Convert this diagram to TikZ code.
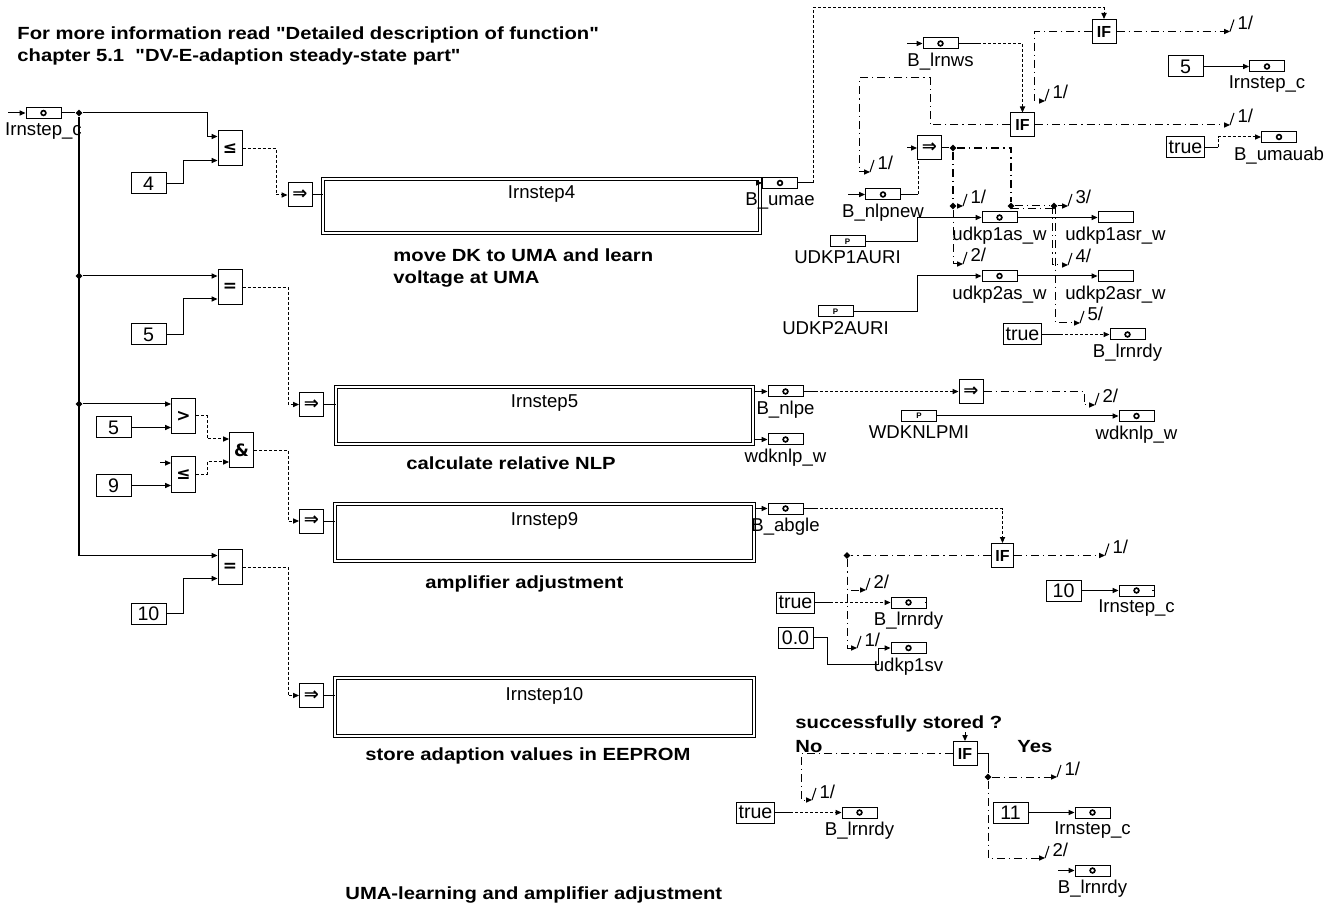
\documentclass[tikz,border=0pt]{standalone}
\usepackage{fontspec}
\setmainfont{Liberation Sans}
\newfontfamily\headfont{Liberation Sans}[FakeStretch=1.15]
\newfontfamily\opfont{DejaVu Sans}
\usetikzlibrary{arrows.meta,shapes.geometric,positioning,calc}

\begin{document}
\begin{tikzpicture}[
    x=0.5pt, y=-0.5pt,
    >={Stealth[length=3pt,width=2.6pt,inset=0pt]},
    lbl/.style={font=\fontsize{9.3}{10}\selectfont, inner sep=1.6pt},
    head/.style={font=\headfont\bfseries\fontsize{8.8}{11}\selectfont, align=left, inner sep=0pt},
    msg/.style={draw, line width=0.5pt, minimum width=17.5pt, minimum height=5.5pt, inner sep=0pt,
        path picture={\draw[line width=0.8pt] (path picture bounding box.center) circle (1.2pt);}},
    prm/.style={draw, line width=0.5pt, minimum width=17.5pt, minimum height=5.5pt, inner sep=0pt,
        font=\bfseries\fontsize{4}{4}\selectfont},
    outb/.style={draw, line width=0.5pt, minimum width=17.5pt, minimum height=5.5pt, inner sep=0pt},
    cst/.style={draw, line width=0.5pt, minimum width=17.5pt, minimum height=10.5pt, inner sep=1pt,
        font=\fontsize{9.8}{10}\selectfont},
    op/.style={draw, line width=0.5pt, minimum width=12pt, minimum height=17.5pt, inner sep=0pt,
        font=\opfont\bfseries\fontsize{8.5}{9}\selectfont},
    imp/.style={draw, line width=0.5pt, minimum size=12pt, inner sep=0pt,
        font=\opfont\bfseries\fontsize{9}{9}\selectfont},
    ifb/.style={draw, line width=0.5pt, minimum size=12pt, inner sep=0pt,
        font=\bfseries\fontsize{8}{8}\selectfont},
    blk/.style={draw, double, double distance=0.6pt, line width=0.5pt, inner sep=0pt},
    jn/.style={diamond, fill, inner sep=0pt, minimum size=3.5pt},
    sig/.style={line width=0.5pt},
    bus/.style={line width=1pt},
    flag/.style={line width=0.5pt, dash pattern=on 1.5pt off 1pt},
    ctrl/.style={line width=0.5pt, dash pattern=on 4pt off 2pt on 0.6pt off 2pt},
    ctrlh/.style={ctrl, line width=0.9pt},
    seq/.pic={\draw[solid,-,line width=0.5pt] (0,0) -- (4,-12);
        \node[lbl, inner sep=0pt, anchor=base west] at (7,-2) {#1};}
]
\useasboundingbox (0,0) rectangle (1340,909);

\node[head, anchor=north west] (title) at (17,26) {For more information read "Detailed description of function"\\chapter 5.1\ \ "DV-E-adaption steady-state part"};

\node[msg, label={[lbl]below:Irnstep\_c}] (lrnin) at (43.5,113) {};
\coordinate (srcin) at (8,113);
\node[jn] (j0) at (79,113) {};
\node[jn] (j1) at (79,276) {};
\node[jn] (j2) at (79,404) {};
\coordinate (jend) at (79,555.5);

\node[op] (le4) at (230,148.5) {≤};
\node[cst] (c4) at (148.5,183.5) {4};
\node[imp] (imp4) at (300,195) {⇒};
\node[blk, minimum width=218.5pt, minimum height=27pt] (blk4) at (541.5,206) {};
\node[lbl, below=2pt of blk4.north] (t4) {Irnstep4};
\node[head, anchor=north west] (cap4) at (393,248) {move DK to UMA and learn\\voltage at UMA};

\node[op] (eq5) at (230,287.5) {=};
\node[cst] (c5a) at (148.5,334.5) {5};
\node[imp] (imp5) at (311.5,404.5) {⇒};
\node[blk, minimum width=208.5pt, minimum height=28.5pt] (blk5) at (544.5,415.5) {};
\node[lbl, below=2.5pt of blk5.north] (t5) {Irnstep5};
\node[head, anchor=base west] (cap5) at (406,470) {calculate relative NLP};

\node[op] (gt5) at (183.5,416) {>};
\node[cst] (c5b) at (113.5,427.5) {5};
\node[op] (le9) at (183.5,474.5) {≤};
\node[cst] (c9) at (113.5,485.5) {9};
\coordinate (stub9) at (160,463);
\node[op] (andop) at (241.5,450.5) {\&};
\node[imp] (imp9) at (311.5,521) {⇒};
\node[blk, minimum width=209.5pt, minimum height=28.5pt] (blk9) at (544.5,532.5) {};
\node[lbl, below=2.5pt of blk9.north] (t9) {Irnstep9};
\node[head, anchor=base west] (cap9) at (425,588) {amplifier adjustment};

\node[op] (eq10) at (230,567) {=};
\node[cst] (c10) at (148.5,613.5) {10};
\node[imp] (imp10) at (311.5,695.5) {⇒};
\node[blk, minimum width=209.5pt, minimum height=29pt] (blk10) at (544.5,707) {};
\node[lbl, below=3pt of blk10.north] (t10) {Irnstep10};
\node[head, anchor=base west] (cap10) at (365,760) {store adaption values in EEPROM};

\node[head, anchor=base west] (capall) at (345,899) {UMA-learning and amplifier adjustment};

\draw[sig,->] (srcin) -- (lrnin);
\draw[sig] (lrnin) -- (j0);
\draw[bus] (j0) -- (jend);
\draw[sig,->] (j0) -- (207,113) |- ($(le4.west)+(0,-12)$);
\draw[sig,->] (c4) -- (183,183.5) |- ($(le4.west)+(0,12)$);
\draw[flag,->] (le4) -- (276,148.5) |- (imp4);
\draw[sig] (imp4) -- (imp4 -| blk4.west);

\draw[sig,->] (j1) -- ($(eq5.west)+(0,-11.5)$);
\draw[sig,->] (c5a) -- (183,334.5) |- ($(eq5.west)+(0,11.5)$);
\draw[flag,->] (eq5) -- (288,287.5) |- (imp5);
\draw[sig] (imp5) -- (imp5 -| blk5.west);

\draw[sig,->] (j2) -- ($(gt5.west)+(0,-12)$);
\draw[sig,->] (c5b) -- ($(gt5.west)+(0,11.5)$);
\draw[sig,->] (stub9) -- ($(le9.west)+(0,-11.5)$);
\draw[sig,->] (c9) -- ($(le9.west)+(0,11)$);
\draw[flag,->] (gt5) -- (207,416) |- ($(andop.west)+(0,-11.5)$);
\draw[flag,->] (le9) -- (207,474.5) |- ($(andop.west)+(0,11.5)$);
\draw[flag,->] (andop) -- (288,450.5) |- (imp9);
\draw[sig] (imp9) -- (imp9 -| blk9.west);

\draw[sig,->] (jend) -- ($(eq10.west)+(0,-11.5)$);
\draw[sig,->] (c10) -- (183,613.5) |- ($(eq10.west)+(0,11.5)$);
\draw[flag,->] (eq10) -- (288,567) |- (imp10);
\draw[sig] (imp10) -- (imp10 -| blk10.west);

\node[msg, label={[lbl]below:B\_umae}] (umae) at (780,183) {};
\draw[sig,->] (blk4.east |- umae) -- (umae);
\draw[sig] (umae) -- (813,183) coordinate (umae1);
\node[ifb] (if1) at (1104,31.5) {IF};
\draw[flag,->] (umae1) -- (813,8) -| (if1);
\draw[ctrl,->] (if1) -- (1034,31.5) -- (1034,101) -- (1045,101) pic{seq=1/};
\draw[ctrl,->] (if1) -- (1230,31.5) pic{seq=1/};

\node[cst] (c5c) at (1185.5,66.5) {5};
\node[msg, label={[lbl]below:Irnstep\_c}] (lrn1) at (1267,66.5) {};
\draw[sig,->] (c5c) -- (lrn1);
\draw[sig] (lrn1) -- ++(17,0) coordinate (lrn1o);

\node[msg, label={[lbl]below:B\_lrnws}] (lrnws) at (940.5,43.5) {};
\coordinate (lrnwsin) at (907,43.5);
\draw[sig,->] (lrnwsin) -- (lrnws);
\draw[sig] (lrnws) -- (978,43.5) coordinate (lrnws1);
\node[ifb] (if2) at (1022.5,125) {IF};
\draw[flag,->] (lrnws1) -| (if2);
\draw[ctrl,->] (if2) -- (930,125) -- (930,78) -- (859,78) -- (859,172) -- (870,172) pic{seq=1/};
\draw[ctrl,->] (if2) -- (1230,125) pic{seq=1/};

\node[cst] (ct1) at (1185.5,147.5) {true};
\node[msg, label={[lbl]below:B\_umauab}] (umauab) at (1279,137) {};
\draw[sig] (ct1) -- (1218,147.5) coordinate (ct1o);
\draw[flag,->] (ct1o) |- (umauab);

\node[imp] (imp1) at (929.5,148) {⇒};
\coordinate (imp1in) at (907,148);
\draw[sig,->] (imp1in) -- (imp1);
\node[msg, label={[lbl]below:B\_nlpnew}] (nlpnew) at (883,194.5) {};
\coordinate (nlpin) at (848,194.5);
\draw[sig,->] (nlpin) -- (nlpnew);
\draw[sig] (nlpnew) -- (918,194.5) coordinate (nlp1);
\draw[flag] (nlp1) -- (nlp1 |- imp1.south);

\node[jn] (jA) at (953,148) {};
\node[jn] (jC) at (953,206) {};
\node[jn] (jB) at (1011,206) {};
\node[jn] (jD) at (1054,206) {};
\draw[sig] (imp1) -- (jA);
\draw[ctrlh] (jA) -- (1011,148) -- (jB);
\draw[ctrlh] (jA) -- (jC);
\draw[ctrl,->] (jC) -- (963,206) pic{seq=1/};
\draw[ctrl,->] (jC) -- (953,264) -- (963,264) pic{seq=2/};
\draw[ctrl] (jB) -- (jD);
\draw[ctrl] ($(jB)+(0,3)$) -- ($(jD)+(0,3)$);
\draw[ctrl,->] (jD) -- (1068,206) pic{seq=3/};
\draw[ctrl,->] ($(jD)+(-1.5,0)$) -- (1052.5,265) -- (1068,265) pic{seq=4/};
\draw[ctrl,->] ($(jD)+(1.5,0)$) -- (1055.5,323) -- (1080,323) pic{seq=5/};

\node[prm, label={[lbl]below:UDKP1AURI}] (ua1) at (847.5,241.5) {P};
\node[msg, label={[lbl]below:udkp1as\_w}] (udkp1) at (999.5,217.5) {};
\node[outb, label={[lbl]below:udkp1asr\_w}] (udkp1r) at (1115.5,217.5) {};
\draw[sig,->] (ua1) -- (917,241.5) |- (udkp1);
\draw[sig,->] (udkp1) -- (udkp1r);
\draw[sig] (udkp1r) -- ++(17,0) coordinate (udkp1ro);

\node[prm, label={[lbl]below:UDKP2AURI}] (ua2) at (835.5,311.5) {P};
\node[msg, label={[lbl]below:udkp2as\_w}] (udkp2) at (999.5,276) {};
\node[outb, label={[lbl]below:udkp2asr\_w}] (udkp2r) at (1115.5,276) {};
\draw[sig,->] (ua2) -- (917,311.5) |- (udkp2);
\draw[sig,->] (udkp2) -- (udkp2r);
\draw[sig] (udkp2r) -- ++(17,0) coordinate (udkp2ro);

\node[cst] (ct2) at (1022.5,334.5) {true};
\node[msg, label={[lbl]below:B\_lrnrdy}] (rdy1) at (1127.5,334.5) {};
\draw[sig] (ct2) -- (1060,334.5) coordinate (ct2o);
\draw[flag,->] (ct2o) -- (rdy1);
\draw[sig] (rdy1) -- ++(17,0) coordinate (rdy1o);

\node[msg, label={[lbl]below:B\_nlpe}] (nlpe) at (785.5,391.5) {};
\node[msg, label={[lbl]below:wdknlp\_w}] (wdk1) at (785.5,439.5) {};
\draw[sig,->] (blk5.east |- nlpe) -- (nlpe);
\draw[sig,->] (blk5.east |- wdk1) -- (wdk1);
\node[imp] (imp2) at (971,391.5) {⇒};
\draw[sig] (nlpe) -- (815,391.5) coordinate (nlpe1);
\draw[flag,->] (nlpe1) -- (imp2);
\draw[ctrl,->] (imp2) -- (1084,391.5) -- (1084,405) -- (1095,405) pic{seq=2/};
\node[prm, label={[lbl]below:WDKNLPMI}] (wdkmi) at (919,416) {P};
\node[msg, label={[lbl]below:wdknlp\_w}] (wdk2) at (1136.5,416) {};
\draw[sig,->] (wdkmi) -- (wdk2);

\node[msg, label={[lbl]below:B\_abgle}] (abgle) at (785.5,508.5) {};
\draw[sig,->] (blk9.east |- abgle) -- (abgle);
\draw[sig] (abgle) -- (815,508.5) coordinate (abgle1);
\node[ifb, minimum width=11pt] (if3) at (1002.5,555.5) {IF};
\draw[flag,->] (abgle1) -| (if3);
\node[jn] (jE) at (847,555.5) {};
\draw[ctrlh] (if3) -- (jE);
\draw[ctrl,->] (jE) -- (847,590) -- (866,590) pic{seq=2/};
\draw[ctrl,->] (jE) -- (847,648) -- (857,648) pic{seq=1/};
\draw[ctrl,->] (if3) -- (1105,555.5) pic{seq=1/};

\node[cst] (ct3) at (795.5,602.5) {true};
\node[msg, label={[lbl]below:B\_lrnrdy}] (rdy2) at (908.5,602.5) {};
\draw[sig] (ct3) -- (830,602.5) coordinate (ct3o);
\draw[flag,->] (ct3o) -- (rdy2);
\draw[sig] (rdy2) -- ++(16,0) coordinate (rdy2o);
\node[cst] (c00) at (795.5,637.5) {0.0};
\node[msg, label={[lbl]below:udkp1sv}] (sv) at (908.5,648) {};
\draw[sig,->] (c00) -- (827,637.5) -- (827,664) -- (878,664) -- (878,648) -- (sv);

\node[cst] (c10b) at (1063.5,590.5) {10};
\node[msg, label={[lbl]below:Irnstep\_c}] (lrn3) at (1136.5,590.5) {};
\draw[sig,->] (c10b) -- (lrn3);
\draw[sig] (lrn3) -- ++(15,0) coordinate (lrn3o);

\node[head, anchor=base west] (qtxt) at (795,728) {successfully stored ?};
\node[head, anchor=base west] (notxt) at (795,752) {No};
\node[head, anchor=base west] (yestxt) at (1017,752) {Yes};
\node[ifb] (if4) at (965,753.5) {IF};
\draw[sig,->] (if4 |- qtxt.south) -- (if4);
\draw[ctrl,->] (if4) -- (801,753.5) -- (801,800) -- (812,800) pic{seq=1/};

\node[cst] (ct4) at (755.5,812.5) {true};
\node[msg, label={[lbl]below:B\_lrnrdy}] (rdy3) at (859.5,812.5) {};
\draw[sig] (ct4) -- (790,812.5) coordinate (ct4o);
\draw[flag,->] (ct4o) -- (rdy3);
\draw[sig] (rdy3) -- ++(18,0) coordinate (rdy3o);

\node[jn] (jF) at (988,777) {};
\draw[sig] (if4) -| (jF);
\draw[ctrl,->] (jF) -- (1057,777) pic{seq=1/};
\draw[ctrl,->] (jF) -- (988,858) -- (1045,858) pic{seq=2/};
\node[cst] (c11) at (1010.5,812.5) {11};
\node[msg, label={[lbl]below:Irnstep\_c}] (lrn4) at (1092.5,812.5) {};
\draw[sig,->] (c11) -- (lrn4);
\draw[sig] (lrn4) -- ++(18,0) coordinate (lrn4o);
\node[msg, label={[lbl]below:B\_lrnrdy}] (rdy4) at (1092.5,870.5) {};
\coordinate (rdy4in) at (1058,870.5);
\draw[sig,->] (rdy4in) -- (rdy4);
\draw[sig] (rdy4) -- ++(18,0) coordinate (rdy4o);

\end{tikzpicture}
\end{document}
